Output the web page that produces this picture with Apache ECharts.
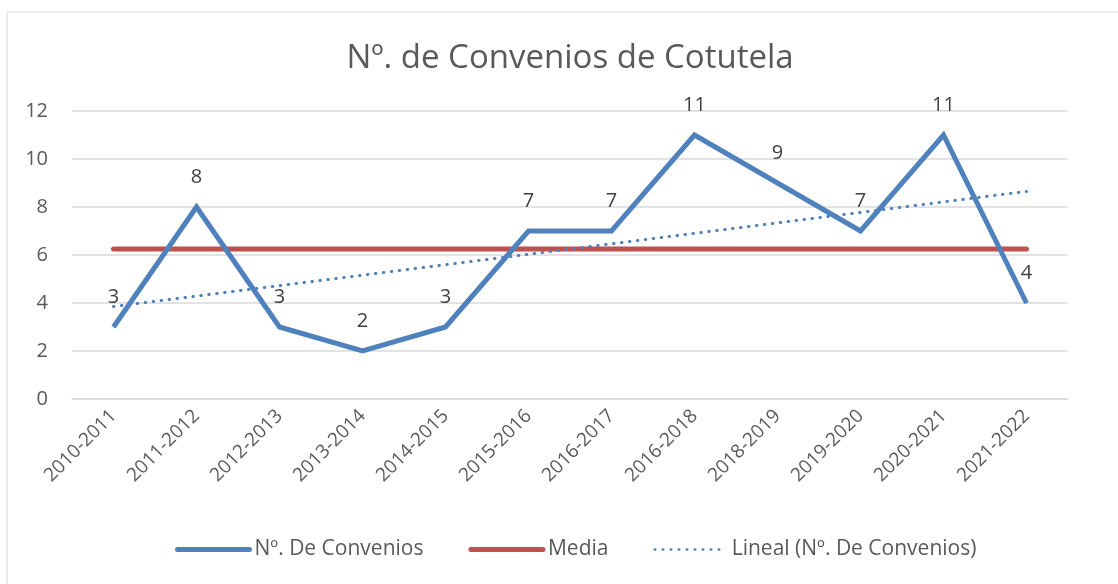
<!DOCTYPE html>
<html>
<head>
<meta charset="utf-8">
<script src="https://cdn.jsdelivr.net/npm/echarts@6/dist/echarts.min.js"></script>
<style>
html, body { margin: 0; padding: 0; background: #fff; }
#chart { width: 1118px; height: 584px; }
</style>
</head>
<body>
<div id="chart"></div>
<script>
var categories = ['2010-2011', '2011-2012', '2012-2013', '2013-2014', '2014-2015', '2015-2016',
    '2016-2017', '2016-2018', '2018-2019', '2019-2020', '2020-2021', '2021-2022'];
var convenios = [3, 8, 3, 2, 3, 7, 7, 11, 9, 7, 11, 4];
var media = [6.25, 6.25, 6.25, 6.25, 6.25, 6.25, 6.25, 6.25, 6.25, 6.25, 6.25, 6.25];
// trend line ends
var lineal = [['2010-2011', 3.85], ['2021-2022', 8.65]];

var font = 'Open Sans';
var chart = echarts.init(document.getElementById('chart'));

var option = {
    animation: false,
    textStyle: { fontFamily: font },
    graphic: [{
        type: 'rect',
        shape: { x: 7, y: 12, width: 1125, height: 590 },
        style: { fill: 'none', stroke: '#d9d9d9', lineWidth: 1 },
        silent: true
    }],
    title: {
        text: 'Nº. de Convenios de Cotutela',
        left: 565,
        textAlign: 'center',
        top: 37,
        textStyle: { fontFamily: font, fontSize: 33, fontWeight: 'normal', color: '#595959' }
    },
    legend: {
        bottom: 19,
        left: 170,
        itemWidth: 72,
        itemHeight: 14,
        itemGap: 45,
        itemStyle: { opacity: 0 },
        lineStyle: { width: 5, cap: 'round' },
        textStyle: { fontFamily: font, fontSize: 21, color: '#595959' },
        data: [
            { name: 'Nº. De Convenios' },
            { name: 'Media' },
            { name: 'Lineal (Nº. De Convenios)', lineStyle: { width: 2.5 } }
        ]
    },
    grid: { left: 72, right: 50, top: 111, bottom: 185 },
    xAxis: {
        type: 'category',
        data: categories,
        boundaryGap: true,
        axisLine: { lineStyle: { color: '#d9d9d9', width: 1.5 } },
        axisTick: { show: false },
        axisLabel: { rotate: 45, fontSize: 19, color: '#595959', margin: 14, fontFamily: font }
    },
    yAxis: {
        type: 'value',
        min: 0,
        max: 12,
        interval: 2,
        axisLine: { show: false },
        axisTick: { show: false },
        axisLabel: { fontSize: 20, color: '#595959', margin: 24, fontFamily: font },
        splitLine: { lineStyle: { color: '#d9d9d9', width: 1.5 } }
    },
    series: [
        {
            name: 'Nº. De Convenios',
            type: 'line',
            data: convenios,
            showSymbol: true,
            symbol: 'circle',
            symbolSize: 1,
            lineStyle: { color: '#4f81bd', width: 5, join: 'miter' },
            itemStyle: { color: '#4f81bd' },
            label: {
                show: true,
                position: 'top',
                distance: 19,
                fontSize: 20,
                color: '#404040',
                fontFamily: font
            },
            z: 3
        },
        {
            name: 'Media',
            type: 'line',
            data: media,
            symbol: 'none',
            lineStyle: { color: '#c0504d', width: 5, cap: 'round' },
            itemStyle: { color: '#c0504d' },
            z: 2
        },
        {
            name: 'Lineal (Nº. De Convenios)',
            type: 'line',
            data: lineal,
            symbol: 'none',
            lineStyle: { color: '#4f81bd', width: 3, type: [0.5, 7.5], cap: 'round' },
            itemStyle: { color: '#4f81bd' },
            z: 4
        }
    ]
};

chart.setOption(option);
</script>
</body>
</html>
